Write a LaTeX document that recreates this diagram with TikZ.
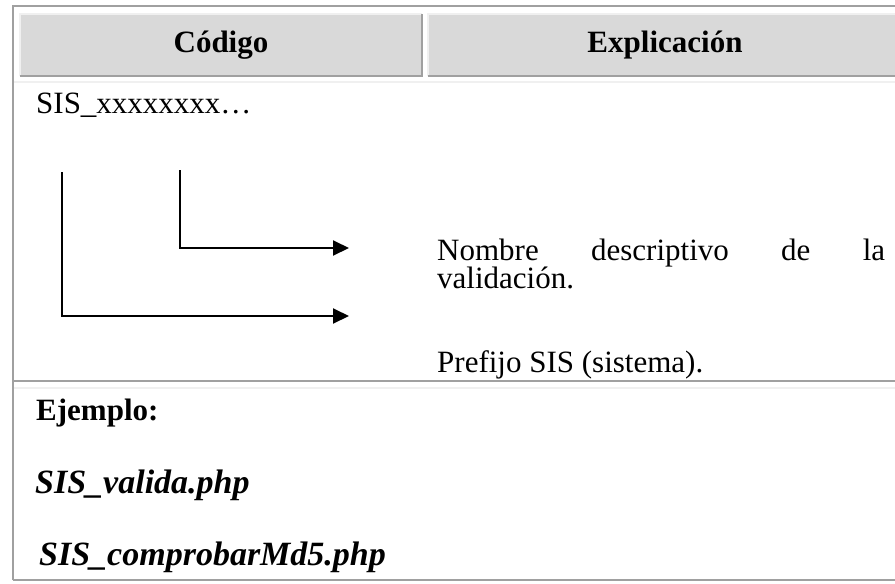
\documentclass[tikz,border=0pt]{standalone}
\usepackage{fontspec}
\setmainfont{Liberation Serif}
\usetikzlibrary{arrows.meta}
\definecolor{bdark}{HTML}{A0A0A0}
\definecolor{blight}{HTML}{F0F0F0}
\definecolor{hfill}{HTML}{D9D9D9}
\begin{document}
\begin{tikzpicture}[x=1pt,y=-1pt,
  dark/.style={draw=bdark,line width=1.6pt},
  light/.style={draw=blight,line width=1.6pt},
  txt/.style={inner sep=0pt,anchor=base west,font=\fontsize{31}{31}\selectfont},
  head/.style={inner sep=0pt,anchor=base,font=\fontsize{31}{31}\selectfont\bfseries},
  ex/.style={inner sep=0pt,anchor=base west,font=\fontsize{34}{34}\selectfont\bfseries\itshape},
  conn/.style={line width=2pt,-{Triangle[length=16pt,width=15pt]}}]
\useasboundingbox (0,0) rectangle (895,584);
\fill[white] (0,0) rectangle (895,584);
% header cells
\fill[hfill] (20,14) rectangle (422,76);
\fill[hfill] (428,14) rectangle (905,76);
\draw[light] (20,76) -- (20,14) -- (422,14);
\draw[dark] (20,76) -- (422,76) -- (422,14);
\draw[light] (428,76) -- (428,14) -- (905,14);
\draw[dark] (428,76) -- (905,76);
% table lines
\draw[dark] (13,580) -- (13,6) -- (905,6);
\draw[light] (14,82) -- (905,82);
\draw[dark] (13,381) -- (905,381);
\draw[light] (14,388) -- (905,388);
\draw[dark] (13,580) -- (905,580);
% texts
\node[head] (codigo) at (221,52) {Código};
\node[head] (explic) at (665,52) {Explicación};
\node[txt] (code) at (36,113) {SIS\_xxxxxxxx…};
\node[txt] (nombre) at (437,260) {\makebox[448pt][s]{Nombre descriptivo de la}};
\node[txt] (valid) at (437,288) {validación.};
\node[txt] (prefijo) at (437,372) {Prefijo SIS (sistema).};
\node[txt,font=\fontsize{31}{31}\selectfont\bfseries] (ejemplo) at (36,420) {Ejemplo:};
\node[ex] (ej1) at (35,493) {SIS\_valida.php};
\node[ex] (ej2) at (39,565) {SIS\_comprobarMd5.php};
% connectors
\coordinate (a1s) at (180,170);
\coordinate (a1e) at (349,248);
\coordinate (a2s) at (62,172);
\coordinate (a2e) at (349,316);
\draw[conn] (a1s) |- (a1e);
\draw[conn] (a2s) |- (a2e);
\end{tikzpicture}
\end{document}
